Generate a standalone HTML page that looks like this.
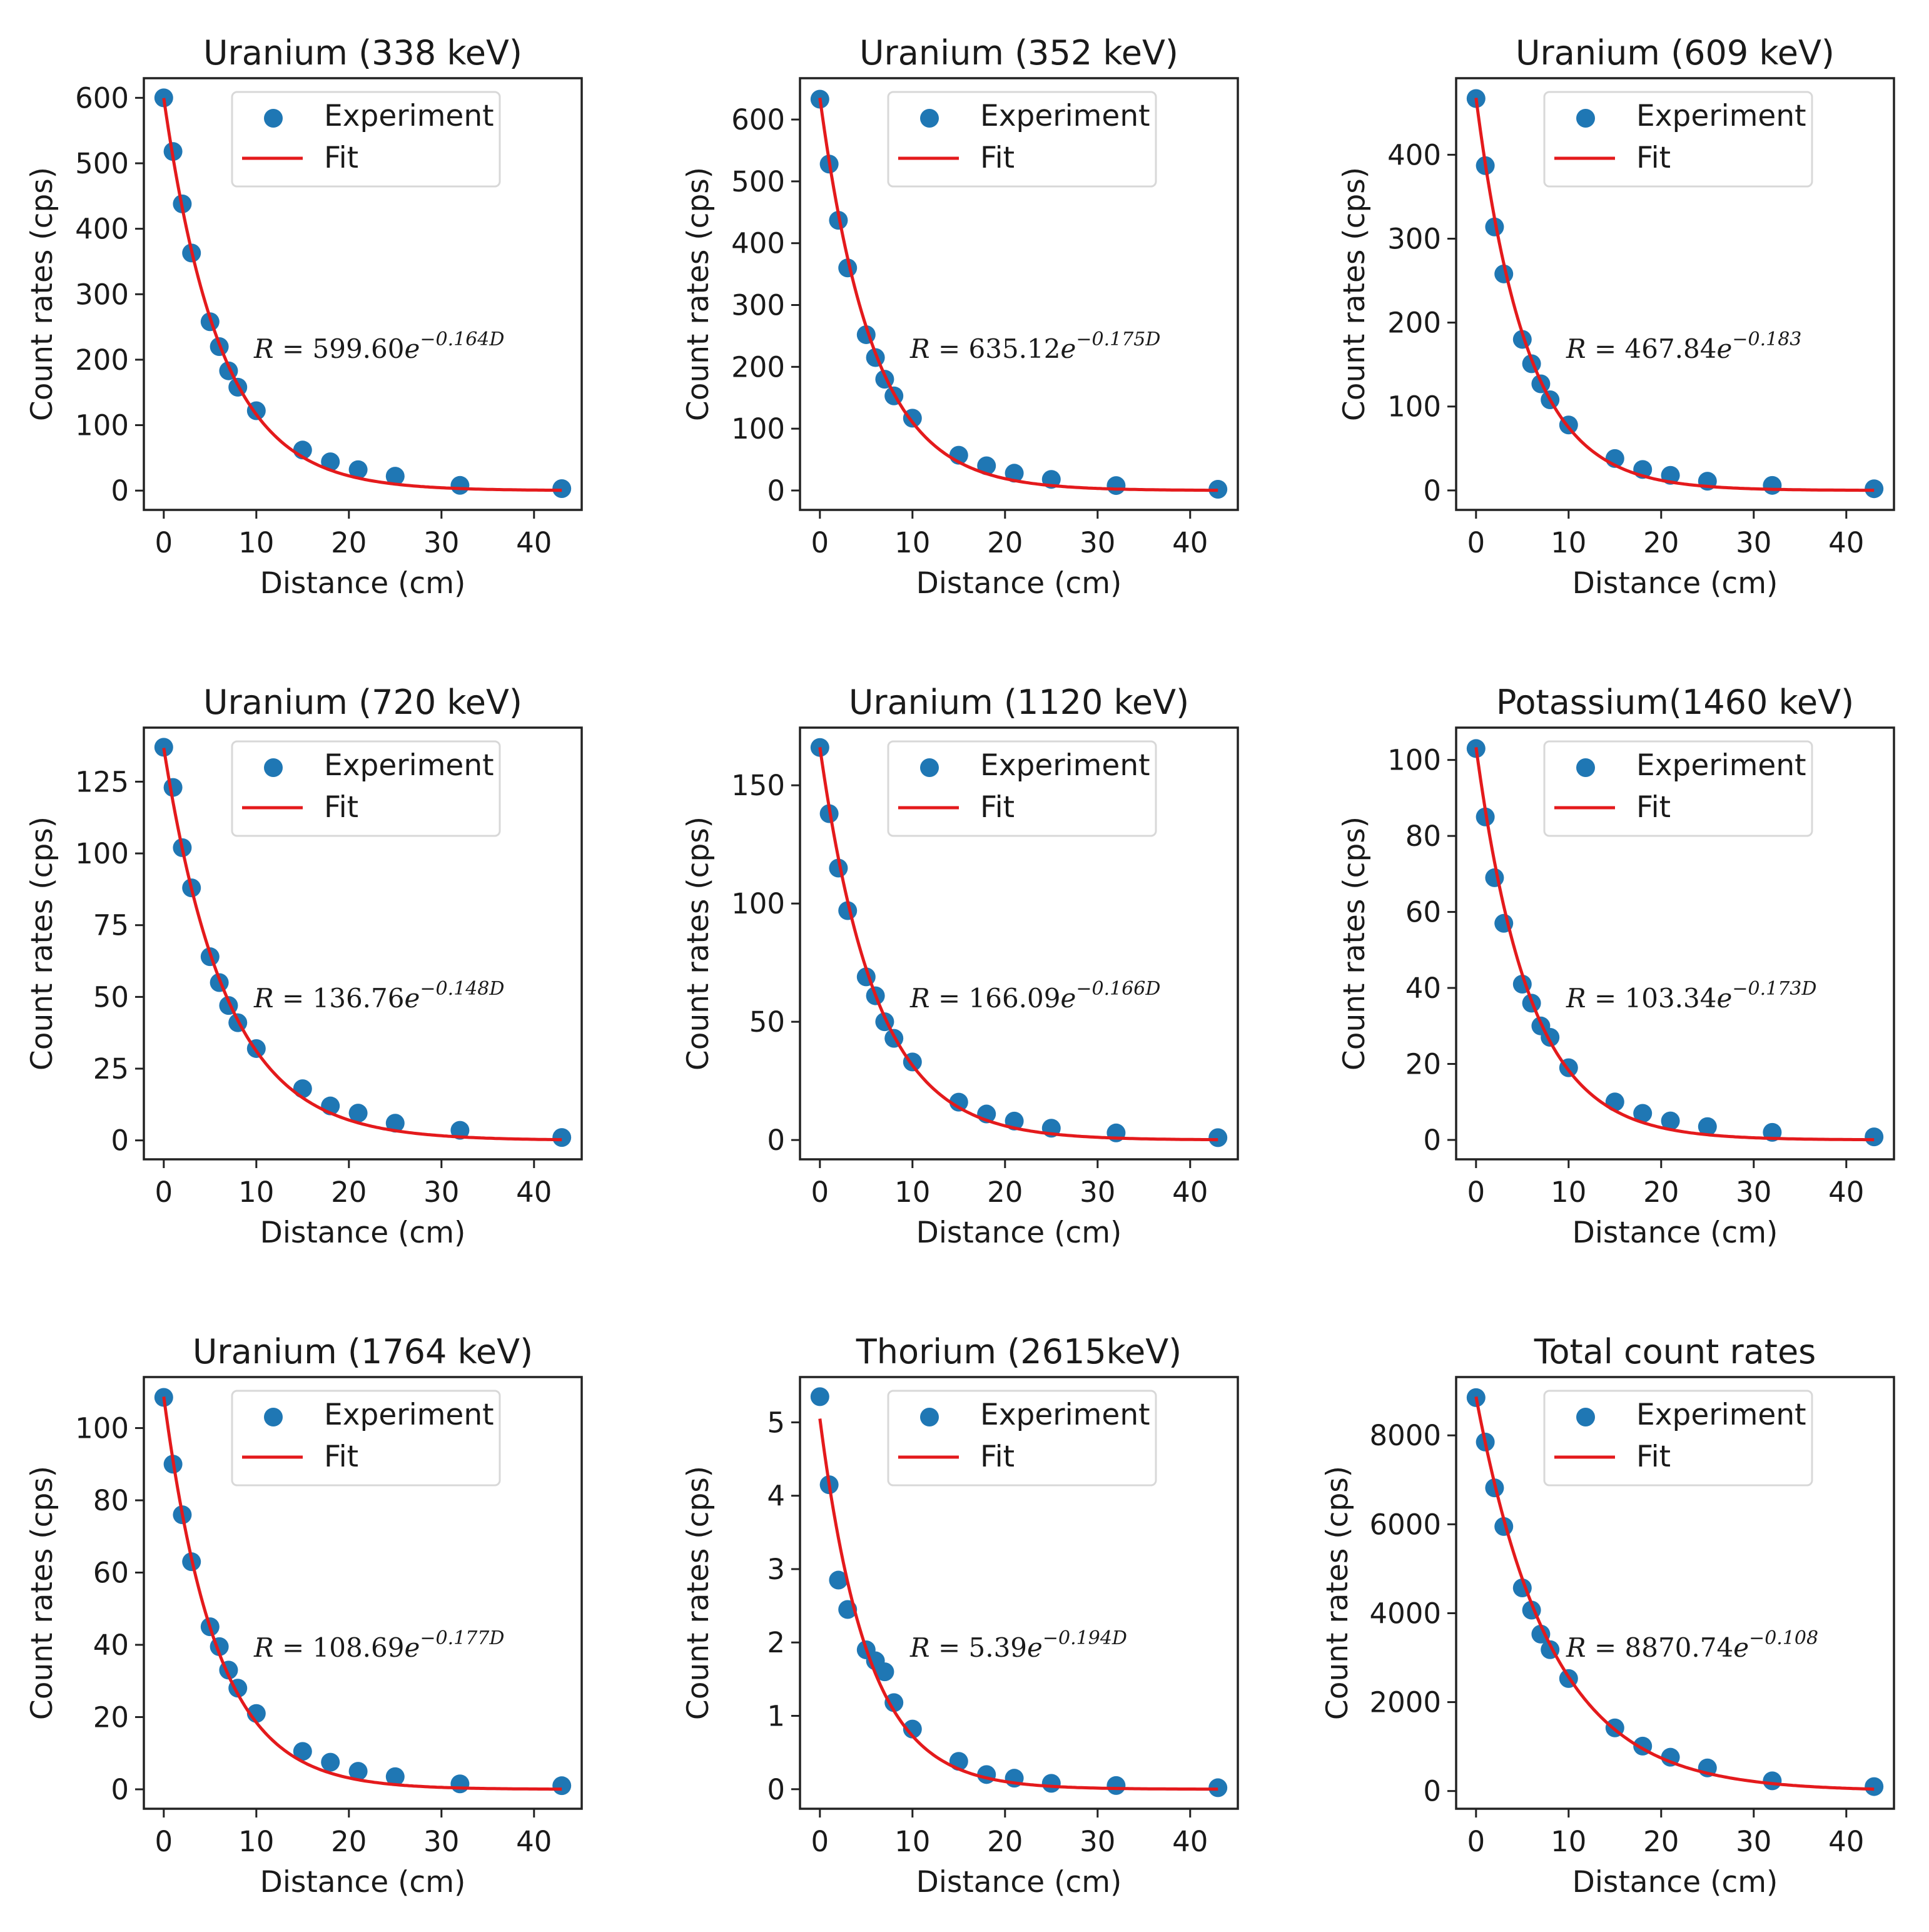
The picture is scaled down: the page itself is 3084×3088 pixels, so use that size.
<!DOCTYPE html>
<html><head><meta charset="utf-8"><style>
html,body{margin:0;padding:0;background:#fff;}
svg{display:block;}
text{font-family:"DejaVu Sans","Liberation Sans",sans-serif;fill:#1a1a1a;}
.eq{font-family:"DejaVu Serif","Liberation Serif",serif;}
</style></head><body>
<svg id="fig" width="3084" height="3088" viewBox="0 0 3084 3088" xmlns="http://www.w3.org/2000/svg"></svg>
<script>
const distances = [0,1,2,3,5,6,7,8,10,15,18,21,25,32,43];
const titles = ["Uranium (338 keV)","Uranium (352 keV)","Uranium (609 keV)","Uranium (720 keV)","Uranium (1120 keV)","Potassium(1460 keV)","Uranium (1764 keV)","Thorium (2615keV)","Total count rates"];
const s338 = [600,518,438,363,258,220,183,158,122,62,44,32,22,8,3];
const s352 = [633,528,437,360,252,215,180,153,117,57,40,28,18,8,2];
const s609 = [467,387,314,258,180,151,127,108,78,38,25,18,11,6,2];
const s720 = [137,123,102,88,64,55,47,41,32,18,12,9.5,6,3.5,1];
const s1120 = [166,138,115,97,69,61,50,43,33,16,11,8,5,3,1];
const s1460 = [103,85,69,57,41,36,30,27,19,10,7,5,3.5,2,0.8];
const s1764 = [108.5,90,76,63,45,39.5,33,28,21,10.5,7.5,5,3.5,1.5,1];
const s2615 = [5.35,4.15,2.85,2.45,1.9,1.75,1.6,1.18,0.82,0.38,0.2,0.15,0.08,0.05,0.02];
const sTotal = [8850,7850,6820,5950,4570,4070,3530,3180,2530,1420,1010,760,520,230,100];
const fitA = [599.60,635.12,467.84,136.76,166.09,103.34,108.69,5.05,8870.74];
const fitK = [0.164,0.175,0.183,0.148,0.166,0.173,0.177,0.194,0.124];
const eqA = ["599.60","635.12","467.84","136.76","166.09","103.34","108.69","5.39","8870.74"];
const eqK = ["−0.164D","−0.175D","−0.183","−0.148D","−0.166D","−0.173D","−0.177D","−0.194D","−0.108"];
const yTicks = [[0,100,200,300,400,500,600],[0,100,200,300,400,500,600],[0,100,200,300,400],[0,25,50,75,100,125],[0,50,100,150],[0,20,40,60,80,100],[0,20,40,60,80,100],[0,1,2,3,4,5],[0,2000,4000,6000,8000]];
const xTicks = [0,10,20,30,40];
const series = [s338,s352,s609,s720,s1120,s1460,s1764,s2615,sTotal];

const NS="http://www.w3.org/2000/svg";
const svg=document.getElementById('fig');
function mk(tag,attrs,parent){const e=document.createElementNS(NS,tag);for(const k in attrs)e.setAttribute(k,attrs[k]);(parent||svg).appendChild(e);return e;}
const colL=[230,1279,2328], rowT=[125,1163,2201], W=700, H=690;

series.forEach((ys,i)=>{
  const L=colL[i%3], T=rowT[Math.floor(i/3)];
  const g=mk('g',{});
  
  
  const curve=[];
  for(let d=0; d<=43.0001; d+=0.25){curve.push([d,fitA[i]*Math.exp(-fitK[i]*d)]);}
  const allY=ys.concat(curve.map(c=>c[1]));
  let ymin=Math.min(...allY), ymax=Math.max(...allY);
  const pad=(ymax-ymin)*0.05; ymin-=pad; ymax+=pad;
  const xmin=-2.15, xmax=45.15;
  const X=v=>L+(v-xmin)/(xmax-xmin)*W;
  const Y=v=>T+H-(v-ymin)/(ymax-ymin)*H;
  const t=mk('text',{x:L+W/2,y:T-22,'font-size':54,'text-anchor':'middle'},g);
  t.textContent=titles[i];
  
  
  ys.forEach((v,j)=>{
    const c=mk('circle',{cx:X(distances[j]),cy:Y(v),r:15,fill:'#1f77b4'},g);
    
    
  });
  const p=mk('path',{d:curve.map((c,j)=>(j?'L':'M')+X(c[0]).toFixed(1)+','+Y(c[1]).toFixed(1)).join(''),fill:'none',stroke:'#e41a1c','stroke-width':5},g);
  
  
  const fr=mk('rect',{x:L,y:T,width:W,height:H,fill:'none',stroke:'#222','stroke-width':3.5},g);
  
  
  xTicks.forEach(v=>{
    mk('line',{x1:X(v),x2:X(v),y1:T+H,y2:T+H+14,stroke:'#222','stroke-width':3},g);
    const tx=mk('text',{x:X(v),y:T+H+68,'font-size':45,'text-anchor':'middle'},g);
    tx.textContent=v;
    
    
  });
  yTicks[i].forEach(v=>{
    mk('line',{x1:L-14,x2:L,y1:Y(v),y2:Y(v),stroke:'#222','stroke-width':3},g);
    const ty=mk('text',{x:L-24,y:Y(v)+16,'font-size':45,'text-anchor':'end'},g);
    ty.textContent=v;
    
    
  });
  const xl=mk('text',{x:L+W/2,y:T+H+133,'font-size':47,'text-anchor':'middle'},g);
  xl.textContent='Distance (cm)';
  
  
  const yoff = i===8 ? 190 : 163;
  const yl=mk('text',{x:0,y:0,'font-size':47,'text-anchor':'middle',transform:`translate(${L-yoff+16},${T+H/2}) rotate(-90)`},g);
  yl.textContent='Count rates (cps)';
  
  
  const lg=mk('g',{},g);
  
  
  mk('rect',{x:L+141,y:T+22,width:428,height:151,rx:8,fill:'#fff',stroke:'#d8d8d8','stroke-width':3},lg);
  mk('circle',{cx:L+207,cy:T+64,r:15,fill:'#1f77b4'},lg);
  const le=mk('text',{x:L+288,y:T+76,'font-size':47},lg);
  le.textContent='Experiment';
  
  
  mk('line',{x1:L+157,x2:L+254,y1:T+128,y2:T+128,stroke:'#e41a1c','stroke-width':5},lg);
  const lf=mk('text',{x:L+288,y:T+143,'font-size':47},lg);
  lf.textContent='Fit';
  
  
  const eq=mk('text',{x:L+176,y:T+447,'font-size':42,class:'eq'},g);
  
  
  const r1=mk('tspan',{'font-style':'italic'},eq); r1.textContent='R';
  const r2=mk('tspan',{},eq); r2.textContent=' = '+eqA[i];
  const r3=mk('tspan',{'font-style':'italic'},eq); r3.textContent='e';
  const r4=mk('tspan',{'font-size':30,dy:-20,'font-style':'italic'},eq); r4.textContent=eqK[i];
});
</script>
</body></html>
